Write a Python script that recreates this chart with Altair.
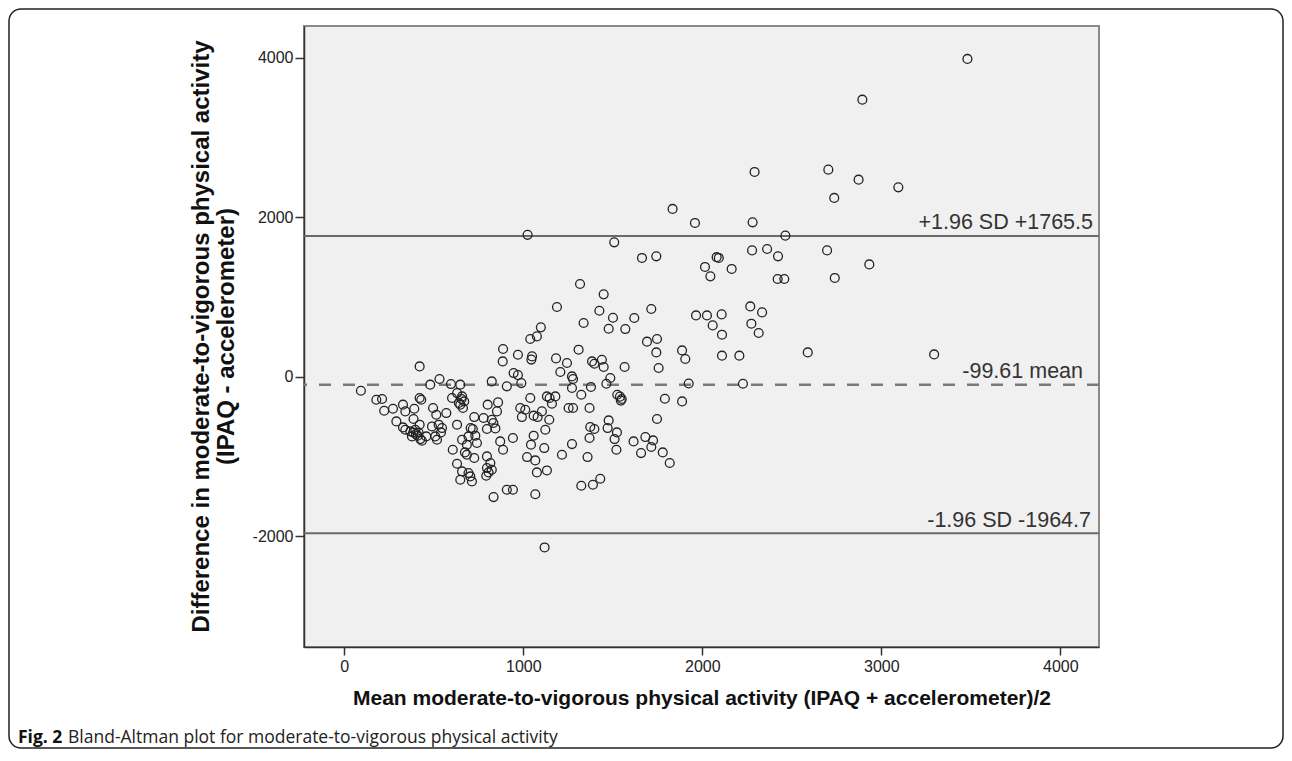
import altair as alt
import pandas as pd

# ---- data ----
mean_x = [3481, 2894, 2292, 2704, 2873, 3095, 2737, 1959, 2281, 2464, 2278, 2362, 2423, 2080, 2092,
          2015, 2045, 2164, 2697, 2933, 2740, 2421, 2458, 1965, 2026, 2058, 2108, 2110, 2268, 2334,
          2274, 2315, 2110, 2207, 2589, 3295, 2227, 1924,
          1024, 1834, 1508, 1663, 1743, 1317, 1449, 1188, 1425, 1715, 1501, 1620, 1337, 1477, 1570,
          1098, 1076, 1039, 1691, 1747,
          1743, 1887, 1905, 1756, 1049, 1045, 970, 1183, 1244, 1309, 1207, 1272, 1278, 1272, 1324,
          1378, 1384, 1397, 1439, 1449, 1486, 1464, 1566, 1525, 1540, 1550, 1545, 989, 946, 970,
          1791, 1887, 1039, 983, 1011, 992, 1058, 1080, 1132, 1147, 1160, 1179, 1104, 1145, 1123,
          1058, 1043, 1117, 1021, 1067, 1076, 1132, 1067, 1253, 1278, 1370, 1272, 1216, 1359, 1324,
          1389, 1430, 1374, 1397, 1370, 1477, 1471, 1523, 1510, 1520, 1616, 1682, 1725, 1715, 1658,
          1779, 1818, 1747,
          421, 93, 179, 211, 223, 272, 328, 341, 391, 421, 430, 291, 328, 341, 369, 378, 397, 410,
          387, 421, 434, 425, 480, 532, 496, 514, 570, 490, 527, 546, 508, 518, 540, 458, 596, 648,
          602, 630, 658, 670, 648, 663, 630, 706, 726, 778, 801, 859, 853, 824, 833, 797, 844, 658,
          694, 732, 741, 685, 606, 685, 726, 630, 658, 694, 713, 648, 797, 816, 797, 806, 824, 793,
          871, 887, 942, 834, 908, 942, 824, 908, 887, 885, 718, 674, 704, 1119,
          400, 385, 415, 640, 655]
diff_y = [3987, 3476, 2569, 2598, 2472, 2376, 2243, 1929, 1937, 1770, 1585, 1602, 1510, 1500, 1490,
          1377, 1259, 1352, 1585, 1409, 1239, 1226, 1226, 769, 769, 644, 782, 527, 882, 807,
          665, 548, 264, 264, 305, 280, -88, -85,
          1780, 2105, 1686, 1490, 1510, 1163, 1033, 875, 828, 850, 740, 737, 674, 602, 598,
          619, 506, 473, 440, 473,
          305, 330, 222, 109, 255, 215, 276, 230, 172, 339, 59, 4, -29, -142, -226,
          -129, 192, 163, 213, 122, -16, -88, 122, -226, -250, -280, -300, -80, 46, 20,
          -276, -310, -267, -393, -414, -506, -489, -506, -247, -267, -339, -247, -435, -540, -665,
          -740, -853, -895, -1008, -1050, -1201, -1176, -1475, -393, -393, -393, -845, -979, -1008, -1368,
          -1355, -1280, -631, -656, -769, -548, -644, -699, -782, -916, -812, -757, -799, -882, -958,
          -950, -1083, -531,
          129, -176, -289, -280, -427, -402, -351, -435, -402, -267, -289, -561, -636, -665, -686, -749, -665, -740,
          -531, -602, -803, -782, -100, -29, -393, -477, -456, -624, -602, -644, -749, -791, -699, -749, -92, -100,
          -267, -205, -247, -310, -351, -393, -602, -644, -506, -518, -351, -322, -435, -540, -581, -656, -649, -791,
          -749, -740, -832, -853, -916, -979, -1020, -1092, -1188, -1209, -1314, -1293, -1000, -1083, -1146, -1201, -1167, -1243,
          -812, -916, -769, -1510, -1418, -1418, -59, -121, 348, 192, -657, -950, -1251, -2142,
          -720, -700, -700, -330, -280]

ref_values = [1765.5, -99.61, -1964.7]
ref_labels = ["+1.96 SD +1765.5", "-99.61 mean", "-1.96 SD -1964.7"]
x_ticks = [0, 1000, 2000, 3000, 4000]
y_ticks = [-2000, 0, 2000, 4000]
x_title = "Mean moderate-to-vigorous physical activity (IPAQ + accelerometer)/2"
y_title = ["Difference in moderate-to-vigorous physical activity", "(IPAQ - accelerometer)"]
caption_bold = "Fig. 2"
caption_text = "Bland-Altman plot for moderate-to-vigorous physical activity"

W, H = 795, 621
x_dom = [-225, 4216]
y_dom = [-3391, 4400]

points = pd.DataFrame({"mean": mean_x, "diff": diff_y})
xs = alt.Scale(domain=x_dom, nice=False, zero=False)
ys = alt.Scale(domain=y_dom, nice=False, zero=False)

AXIS_FONT = "Liberation Sans"

x_axis = alt.Axis(
    values=x_ticks, title=x_title, labelExpr="'' + datum.value", tickSize=8, labelPadding=3,
    labelFlush=False, titleY=51, titleBaseline="middle", titleAnchor="middle")
y_axis = alt.Axis(
    values=y_ticks, title=y_title, labelExpr="'' + datum.value", tickSize=9, labelPadding=2,
    labelFlush=False, titleAngle=270, titleX=-103, titleY=310, titleAlign="center",
    titleBaseline="middle", titleLineHeight=25, titleFontSize=24)

pts = alt.Chart(points).mark_point(
    shape="circle", filled=False, size=78, stroke="#222222", strokeWidth=1.3, opacity=1
).encode(
    x=alt.X("mean:Q", scale=xs, axis=x_axis),
    y=alt.Y("diff:Q", scale=ys, axis=y_axis),
)

sd_df = pd.DataFrame({"v": [ref_values[0], ref_values[2]]})
mean_df = pd.DataFrame({"v": [ref_values[1]]})

sd_rules = alt.Chart(sd_df).mark_rule(color="#6a6a6a", strokeWidth=2).encode(
    y=alt.Y("v:Q", scale=ys, axis=y_axis))
mean_rule = alt.Chart(mean_df).mark_rule(color="#7a7a7a", strokeWidth=2.5, strokeDash=[12, 12]).encode(
    y=alt.Y("v:Q", scale=ys, axis=y_axis))

def ref_text(i, xpos, dy):
    df = pd.DataFrame({"v": [ref_values[i]], "t": [ref_labels[i]]})
    return alt.Chart(df).mark_text(
        align="right", baseline="alphabetic", dy=dy, fontSize=21.5, font=AXIS_FONT, color="#333333"
    ).encode(x=alt.value(xpos), y=alt.Y("v:Q", scale=ys, axis=y_axis), text="t:N")

lab_hi = ref_text(0, 789, -7)
lab_mean = ref_text(1, 779, -7)
lab_lo = ref_text(2, 787, -6)

one = pd.DataFrame({"a": [0]})
frame = alt.Chart(one).mark_rect(
    fill="transparent", stroke="#222222", strokeWidth=1.5, cornerRadius=12
).encode(x=alt.value(-295), x2=alt.value(979), y=alt.value(-17), y2=alt.value(722))

cap1 = alt.Chart(pd.DataFrame({"t": [caption_bold]})).mark_text(
    align="left", baseline="middle", font="Open Sans", fontSize=17.5, fontWeight="bold", color="#111111"
).encode(x=alt.value(-286), y=alt.value(712), text="t:N")
cap2 = alt.Chart(pd.DataFrame({"t": [caption_text]})).mark_text(
    align="left", baseline="middle", font="Open Sans", fontSize=17.5, color="#222222"
).encode(x=alt.value(-236), y=alt.value(712), text="t:N")

chart = alt.layer(frame, sd_rules, mean_rule, pts, lab_hi, lab_mean, lab_lo, cap1, cap2).properties(
    width=W, height=H,
    padding={"left": 296, "top": 18, "right": 185, "bottom": 103},
    autosize=alt.AutoSizeParams(type="none"),
    background="white",
).configure_view(
    fill="#f0f0f0", stroke="#8a8a8a", strokeWidth=2
).configure_axis(
    grid=False, labelFont=AXIS_FONT, labelFontSize=16, labelColor="#222222",
    domainColor="#333333", domainWidth=1.5, tickColor="#333333", tickWidth=1.5,
    titleFont=AXIS_FONT, titleFontSize=21, titleFontWeight="bold", titleColor="#111111",
    labelOverlap=False,
)

chart.save("out.html", embed_options={"renderer": "svg", "actions": False})
